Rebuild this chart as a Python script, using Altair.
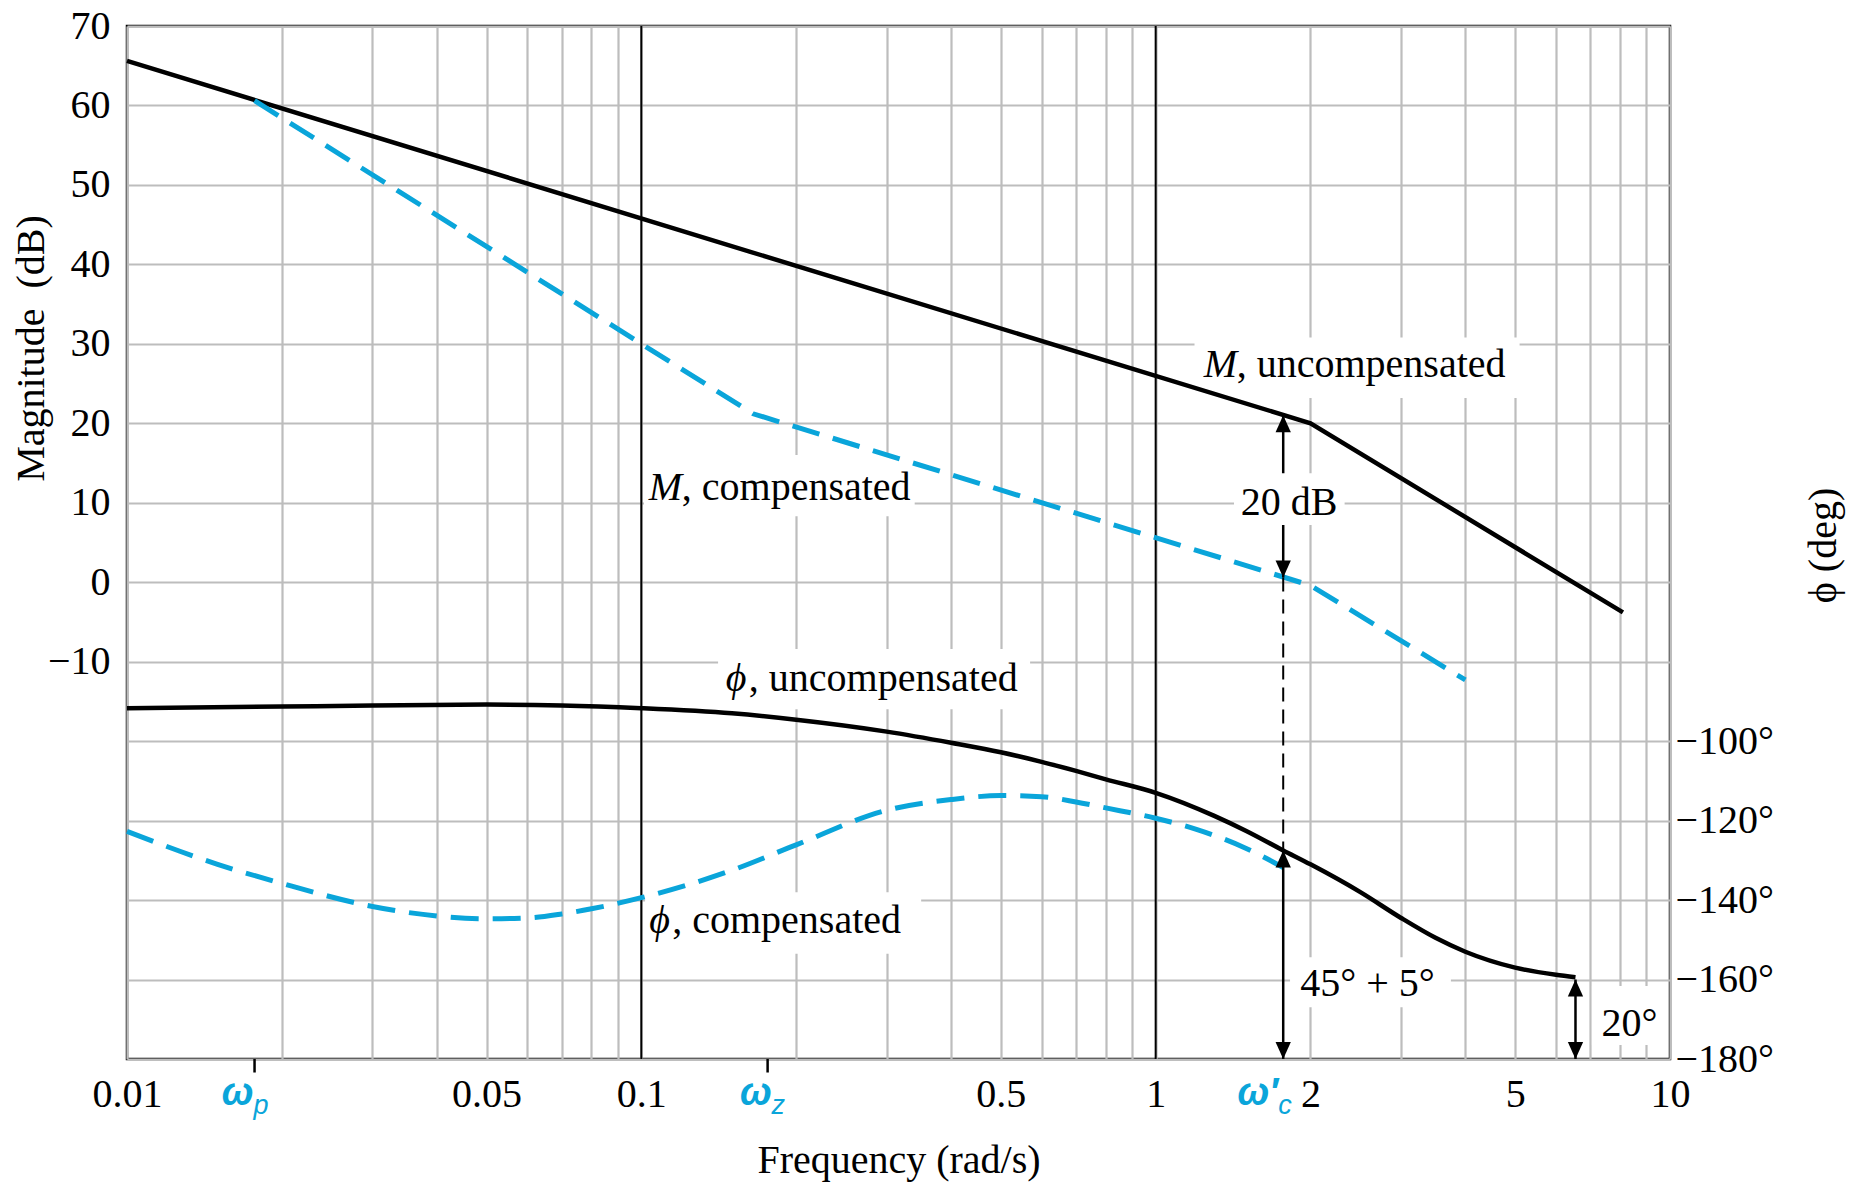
import altair as alt
import pandas as pd

FONT = "Liberation Serif"
SANS = "Liberation Sans"
BLUE = "#0aa5da"
GRID = "#bdbdbd"
FS = 40

# ---------------- data ----------------
# magnitude, uncompensated (asymptotes)
w_mag_unc = [0.01, 2.0, 8.1]
mag_unc = [65.6, 20.0, -3.8]
# magnitude, compensated (asymptotes)
w_mag_comp = [0.0177, 0.1, 0.165, 2.0, 4.0]
mag_comp = [60.6, 30.0, 21.2, -0.4, -12.3]
# phase, uncompensated (deg)
w_ph_unc = [0.01, 0.02, 0.03, 0.05, 0.07, 0.1, 0.15, 0.2, 0.3, 0.4, 0.5, 0.6, 0.7,
            0.8, 1.0, 1.3, 1.5, 1.77, 2.0, 2.5, 3.0, 3.5, 4.0, 5.0, 6.0, 6.55]
ph_unc = [-91.7, -91.3, -91.0, -90.8, -91.0, -91.7, -93.0, -94.6, -97.6, -100.4, -102.8,
          -105.2, -107.5, -109.6, -113.0, -118.8, -122.6, -127.5, -131.0, -138.0, -144.5,
          -149.5, -153.0, -157.0, -158.8, -159.4]
# phase, compensated (deg)
w_ph_comp = [0.01, 0.015, 0.02, 0.03, 0.04, 0.05, 0.06, 0.07, 0.08, 0.1, 0.15, 0.2, 0.3,
             0.4, 0.5, 0.6, 0.7, 0.8, 1.0, 1.2, 1.5, 1.77]
ph_comp = [-122.7, -131.0, -135.8, -141.6, -144.0, -144.7, -144.5, -143.5, -142.2, -139.4,
           -132.5, -126.1, -117.4, -114.7, -113.7, -114.0, -115.3, -116.8, -119.4, -122.2,
           -127.0, -131.8]

# marked frequencies
omega_w = [0.0177, 0.176, 1.77]
omega_main = ["\u03c9", "\u03c9", "\u03c9\u2032"]
omega_sub = ["p", "z", "c"]
omega_dx = [-1, 4, -5]
tick_omegas = [0.0177, 0.176]
w_c = 1.77

# axis values
x_tick_labels = [0.01, 0.05, 0.1, 0.5, 1, 2, 5, 10]
x_grid = sorted({round(m * 10.0 ** e, 6) for e in (-2, -1, 0) for m in range(1, 10)} | {10})
mag_ticks = list(range(-60, 71, 10))
phase_ticks = [-100, -120, -140, -160, -180]
decade_lines = [0.1, 1]

# annotations
arrow_db_bottom, arrow_db_top = 0.6, 21.0       # 20 dB arrow at w_c
phase_tip = -127.5                               # phase of uncompensated at w_c
margin_w = 6.55
margin_deg = (-180, -160)


def deg_to_db(d):
    return -20 + (d + 100) / 2.0


# ---------------- encodings ----------------
lbl_list = ",".join(str(v) for v in x_tick_labels)
x_axis = alt.Axis(
    values=x_grid, labelExpr=f"indexof([{lbl_list}], datum.value) >= 0 ? '' + datum.value : ''",
    grid=True, gridColor=GRID, gridWidth=2.2, ticks=False, domain=False,
    labelPadding=15, labelFlush=False, labelOverlap=False, labelBound=False,
    title="Frequency (rad/s)", titleY=113, titleBaseline="alphabetic",
)
X = alt.X("w:Q", scale=alt.Scale(type="log", domain=[0.01, 10], nice=False), axis=x_axis)
X2 = alt.X2("w2:Q")

y_axis = alt.Axis(
    values=mag_ticks, orient="left",
    labelExpr="datum.value >= -10 ? (datum.value < 0 ? '\u2212' + abs(datum.value) : '' + datum.value) : ''",
    grid=True, gridColor=GRID, gridWidth=2.2, ticks=False, domain=False,
    labelPadding=17, labelFlush=False, labelOverlap=False,
    title="Magnitude\u2002(dB)", titleX=-96, titleY=322, titleAngle=270,
    titleAlign="center", titleBaseline="middle",
)
Y = alt.Y("db:Q", scale=alt.Scale(domain=[-60, 70], nice=False, zero=False), axis=y_axis)
Y2 = alt.Y2("db2:Q")

yp_axis = alt.Axis(
    values=phase_ticks, orient="right",
    labelExpr="'\u2212' + abs(datum.value) + '\u00b0'",
    grid=False, ticks=False, domain=False, labelPadding=5, labelFlush=False, labelOverlap=False,
    title="\u03d5 (deg)", titleX=153, titleY=519, titleAngle=270,
    titleAlign="center", titleBaseline="middle",
)
YP = alt.Y("deg:Q", scale=alt.Scale(domain=[-180, 80], nice=False, zero=False), axis=yp_axis)
YP2 = alt.Y2("deg2:Q")

UP = "M0,0L-0.45,1L0.45,1Z"
DOWN = "M0,0L-0.45,-1L0.45,-1Z"
HEAD = 1156


def txt(df, y, **kw):
    base = dict(font=FONT, fontSize=FS, color="black", align="left", baseline="alphabetic")
    base.update(kw)
    return alt.Chart(df).mark_text(**base).encode(x=X, y=y, text="t:N")


# ---------------- magnitude group ----------------
mag_layers = []
mag_layers.append(alt.Chart(pd.DataFrame({"w": decade_lines})).mark_rule(color="black", strokeWidth=2).encode(x=X))
mag_layers.append(alt.Chart(pd.DataFrame({
    "w": [1.19, 0.1012], "w2": [5.1, 0.34], "db": [23.2, 8.3], "db2": [30.8, 16.0]
})).mark_rect(color="white").encode(x=X, x2=X2, y=Y, y2=Y2))
mag_layers.append(alt.Chart(pd.DataFrame({"w": w_mag_unc, "db": mag_unc}))
                  .mark_line(color="black", strokeWidth=4.5).encode(x=X, y=Y))
mag_layers.append(alt.Chart(pd.DataFrame({"w": w_mag_comp, "db": mag_comp}))
                  .mark_line(color=BLUE, strokeWidth=5, strokeDash=[28, 14]).encode(x=X, y=Y))
mag_layers.append(alt.Chart(pd.DataFrame({"w": [w_c], "db": [arrow_db_bottom], "db2": [arrow_db_top]}))
                  .mark_rule(color="black", strokeWidth=2.5).encode(x=X, y=Y, y2=Y2))
mag_layers.append(alt.Chart(pd.DataFrame({"w": [w_c], "db": [arrow_db_bottom], "db2": [deg_to_db(phase_tip)]}))
                  .mark_rule(color="black", strokeWidth=2, strokeDash=[14, 8]).encode(x=X, y=Y, y2=Y2))
mag_layers.append(alt.Chart(pd.DataFrame({"w": [1.42], "w2": [2.33], "db": [7.2], "db2": [13.7]}))
                  .mark_rect(color="white").encode(x=X, x2=X2, y=Y, y2=Y2))
mag_layers.append(alt.Chart(pd.DataFrame({"w": [w_c], "db": [arrow_db_top]}))
                  .mark_point(shape=UP, size=HEAD, filled=True, color="black", opacity=1, strokeWidth=0).encode(x=X, y=Y))
mag_layers.append(alt.Chart(pd.DataFrame({"w": [w_c], "db": [arrow_db_bottom]}))
                  .mark_point(shape=DOWN, size=HEAD, filled=True, color="black", opacity=1, strokeWidth=0).encode(x=X, y=Y))
# labels
mag_layers.append(txt(pd.DataFrame({"w": [1.24, 0.1034], "db": [25.8, 10.4], "t": ["M", "M"]}), Y, fontStyle="italic"))
mag_layers.append(txt(pd.DataFrame({"w": [1.24, 0.1034], "db": [25.8, 10.4],
                                    "t": [", uncompensated", ", compensated"]}), Y, dx=33))
mag_layers.append(txt(pd.DataFrame({"w": [w_c], "db": [8.5], "t": ["20 dB"]}), Y, align="center", dx=6))
# omega ticks and labels under the axis
mag_layers.append(alt.Chart(pd.DataFrame({"w": tick_omegas, "db": [-60] * len(tick_omegas),
                                          "db2": [-61.7] * len(tick_omegas)}))
                  .mark_rule(color="black", strokeWidth=2.5).encode(x=X, y=Y, y2=Y2))
for w, m, s, d in zip(omega_w, omega_main, omega_sub, omega_dx):
    mag_layers.append(txt(pd.DataFrame({"w": [w], "db": [-60], "t": [m]}), Y, font=SANS, fontSize=38,
                          fontStyle="italic", fontWeight="bold", color=BLUE, align="right", dx=d, dy=46))
    mag_layers.append(txt(pd.DataFrame({"w": [w], "db": [-60], "t": [s]}), Y, font=SANS, fontSize=27,
                          fontStyle="italic", color=BLUE, align="left", dx=d, dy=55))

mag = alt.layer(*mag_layers)

# ---------------- phase group ----------------
ph_layers = []
ph_layers.append(alt.Chart(pd.DataFrame({
    "w": [0.141, 0.1017, 1.825, 7.05], "w2": [0.57, 0.35, 3.75, 9.8],
    "deg": [-92.0, -153.5, -167.0, -176.5], "deg2": [-76.8, -138.0, -154.4, -161.6]
})).mark_rect(color="white").encode(x=X, x2=X2, y=YP, y2=YP2))
ph_layers.append(alt.Chart(pd.DataFrame({"w": w_ph_unc, "deg": ph_unc}))
                 .mark_line(color="black", strokeWidth=4.5, interpolate="monotone").encode(x=X, y=YP))
ph_layers.append(alt.Chart(pd.DataFrame({"w": w_ph_comp, "deg": ph_comp}))
                 .mark_line(color=BLUE, strokeWidth=5, strokeDash=[28, 14], interpolate="monotone").encode(x=X, y=YP))
ph_layers.append(alt.Chart(pd.DataFrame({"w": [w_c, margin_w], "deg": [-180, margin_deg[0]],
                                         "deg2": [phase_tip, margin_deg[1]]}))
                 .mark_rule(color="black", strokeWidth=2.5).encode(x=X, y=YP, y2=YP2))
ph_layers.append(alt.Chart(pd.DataFrame({"w": [w_c, margin_w], "deg": [phase_tip, margin_deg[1]]}))
                 .mark_point(shape=UP, size=HEAD, filled=True, color="black", opacity=1, strokeWidth=0).encode(x=X, y=YP))
ph_layers.append(alt.Chart(pd.DataFrame({"w": [w_c, margin_w], "deg": [-180, margin_deg[0]]}))
                 .mark_point(shape=DOWN, size=HEAD, filled=True, color="black", opacity=1, strokeWidth=0).encode(x=X, y=YP))
ph_layers.append(txt(pd.DataFrame({"w": [0.146, 0.1036], "deg": [-87.4, -148.4], "t": ["\u03d5", "\u03d5"]}), YP,
                     fontStyle="italic"))
ph_layers.append(txt(pd.DataFrame({"w": [0.146, 0.1036], "deg": [-87.4, -148.4],
                                   "t": [", uncompensated", ", compensated"]}), YP, dx=23))
ph_layers.append(txt(pd.DataFrame({"w": [w_c], "deg": [-164.2], "t": ["45\u00b0 + 5\u00b0"]}), YP, dx=17))
ph_layers.append(txt(pd.DataFrame({"w": [margin_w], "deg": [-174.2], "t": ["20\u00b0"]}), YP, dx=26))

phase = alt.layer(*ph_layers)

chart = (
    alt.layer(mag, phase)
    .resolve_scale(y="independent")
    .properties(width=1543, height=1033,
                autosize=alt.AutoSizeParams(type="none"),
                padding={"left": 127, "top": 26, "right": 190, "bottom": 123},
                background="white")
    .configure_view(stroke="black", strokeWidth=2.5)
    .configure_axis(labelFont=FONT, labelFontSize=FS, labelColor="black",
                    titleFont=FONT, titleFontSize=FS, titleFontWeight="normal", titleColor="black")
)

chart.save("out.html", embed_options={"renderer": "svg", "actions": False})
